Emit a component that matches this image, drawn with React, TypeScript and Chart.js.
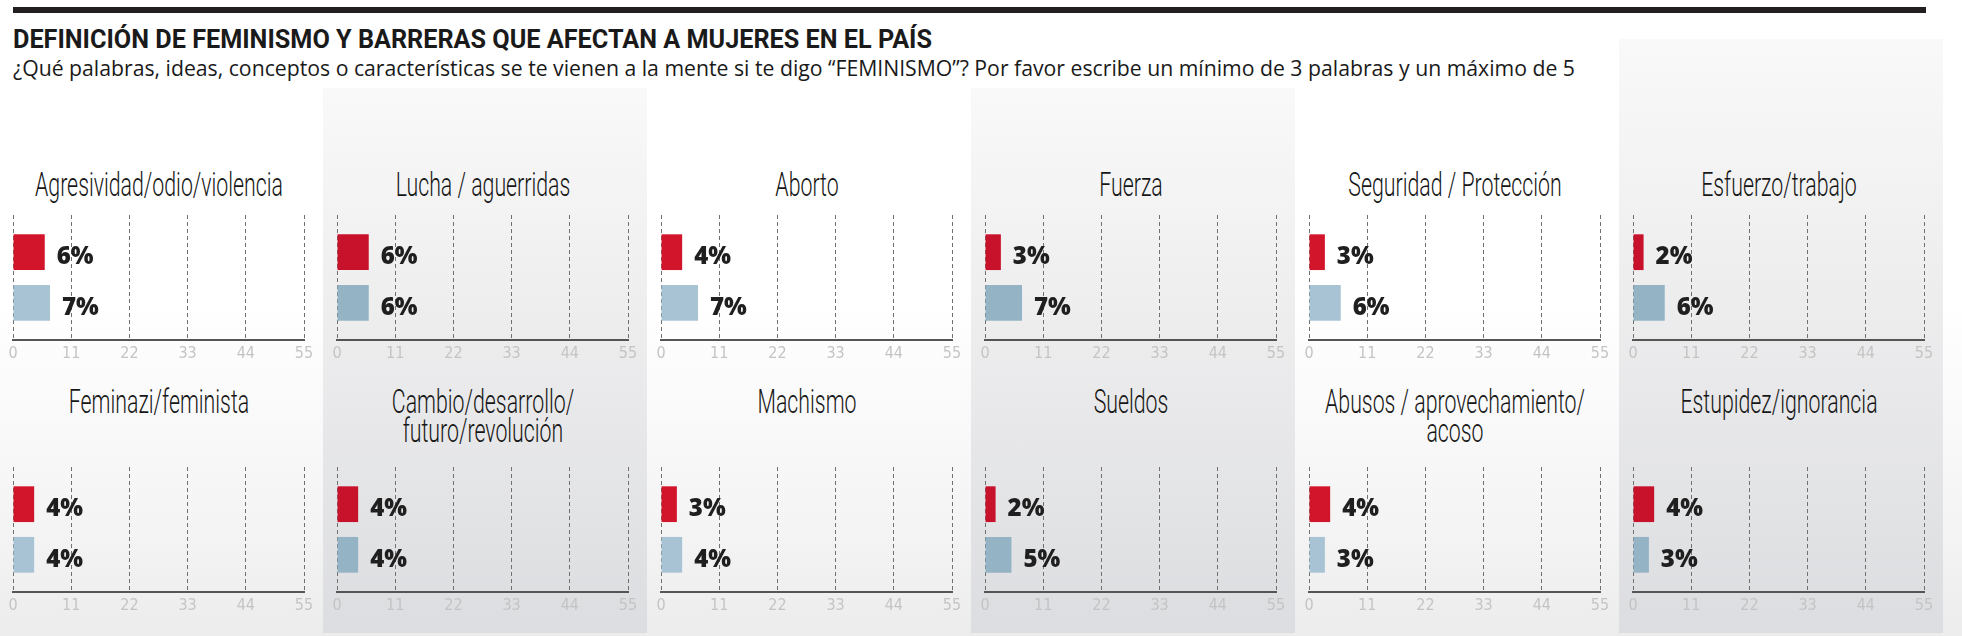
import React, { useEffect, useRef } from 'react';
import { Chart, registerables } from 'chart.js';

Chart.register(...registerables);

// ---------- data ----------
const titleText = 'DEFINICIÓN DE FEMINISMO Y BARRERAS QUE AFECTAN A MUJERES EN EL PAÍS';
const subtitleText =
  '¿Qué palabras, ideas, conceptos o características se te vienen a la mente si te digo “FEMINISMO”? Por favor escribe un mínimo de 3 palabras y un máximo de 5';

const categories = [
  'Agresividad/odio/violencia',
  'Lucha / aguerridas',
  'Aborto',
  'Fuerza',
  'Seguridad / Protección',
  'Esfuerzo/trabajo',
  'Feminazi/feminista',
  'Cambio/desarrollo/\nfuturo/revolución',
  'Machismo',
  'Sueldos',
  'Abusos / aprovechamiento/\nacoso',
  'Estupidez/ignorancia',
];
const redValues = [6, 6, 4, 3, 3, 2, 4, 4, 3, 2, 4, 4];
const blueValues = [7, 6, 7, 7, 6, 6, 4, 4, 4, 5, 3, 3];
const xTicks = [0, 11, 22, 33, 44, 55];

// ---------- layout ----------
const COL_W = 324;
const COL_X0 = -1;
const PLOT_OFF = 14; // zero line offset within column
const PLOT_W = 291;
const PLOT_H = 125;
const ROW_TOPS = [215, 467];
const TITLE_TOPS = [170, 387];
const PAD_L = 20;
const PAD_T = 6;
const AXIS_H = 30;

const titleFont = '300 33px Roboto, "Open Sans", sans-serif';

let measureCanvas: HTMLCanvasElement | null = null;
function measure(text: string, font: string) {
  if (!measureCanvas) measureCanvas = document.createElement('canvas');
  const ctx = measureCanvas.getContext('2d')!;
  ctx.font = font;
  return ctx.measureText(text).width;
}

const valueLabels = {
  id: 'valueLabels',
  afterDatasetsDraw(chart: any) {
    const ctx = chart.ctx;
    ctx.save();
    ctx.font = '800 24px "Open Sans", sans-serif';
    ctx.fillStyle = '#1f1f1f';
    ctx.textAlign = 'left';
    ctx.textBaseline = 'alphabetic';
    chart.data.datasets.forEach((ds: any, i: number) => {
      const meta = chart.getDatasetMeta(i);
      meta.data.forEach((bar: any, j: number) => {
        const v = ds.data[j];
        ctx.fillText(v + '%', bar.x + 12, bar.y + 12);
      });
    });
    ctx.restore();
  },
};

function MiniChart({ idx }: { idx: number }) {
  const ref = useRef<HTMLCanvasElement>(null);
  const col = idx % 6;
  const row = Math.floor(idx / 6);
  const shaded = col % 2 === 1;
  const left = Math.round(COL_X0 + COL_W * col + PLOT_OFF - PAD_L);
  const top = ROW_TOPS[row] - PAD_T;
  const width = PLOT_W + PAD_L * 2;
  const height = PAD_T + PLOT_H + AXIS_H;

  useEffect(() => {
    if (!ref.current) return;
    const chart = new Chart(ref.current, {
      type: 'bar',
      data: {
        labels: [categories[idx].replace('\n', ' ')],
        datasets: [
          {
            label: 'A',
            data: [redValues[idx]],
            backgroundColor: shaded ? '#c8112b' : '#d3152b',
            borderWidth: 0,
            categoryPercentage: 0.81,
            barPercentage: 0.706,
          },
          {
            label: 'B',
            data: [blueValues[idx]],
            backgroundColor: shaded ? '#94b3c4' : '#a8c4d4',
            borderWidth: 0,
            categoryPercentage: 0.81,
            barPercentage: 0.706,
          },
        ],
      },
      options: {
        indexAxis: 'y',
        responsive: false,
        maintainAspectRatio: false,
        animation: false,
        devicePixelRatio: 1,
        layout: { padding: { left: PAD_L, right: PAD_L, top: PAD_T, bottom: 0 } },
        plugins: {
          legend: { display: false },
          tooltip: { enabled: false },
          title: { display: false },
        },
        scales: {
          x: {
            type: 'linear',
            min: xTicks[0],
            max: xTicks[xTicks.length - 1],
            afterBuildTicks: (s: any) => {
              s.ticks = xTicks.map((v) => ({ value: v }));
            },
            afterFit: (s: any) => {
              s.height = AXIS_H;
            },
            grid: { color: '#707070', lineWidth: 1, drawTicks: false },
            border: { display: true, color: '#555555', width: 2, dash: [4, 3] },
            ticks: {
              color: '#c4c4c4',
              padding: 4,
              autoSkip: false,
              maxRotation: 0,
              font: { family: '"Liberation Sans Narrow", "DejaVu Sans Condensed", Roboto, sans-serif', size: 16, weight: '300' },
            },
          },
          y: { display: false },
        },
      } as any,
      plugins: [valueLabels],
    });
    return () => chart.destroy();
  }, [idx]);

  return (
    <canvas
      ref={ref}
      width={width}
      height={height}
      style={{ position: 'absolute', left, top, width, height }}
    />
  );
}

function PanelTitle({ idx, scale }: { idx: number; scale: number }) {
  const col = idx % 6;
  const row = Math.floor(idx / 6);
  const center = COL_X0 + COL_W * col + PLOT_OFF + PLOT_W / 2;
  const lines = categories[idx].split('\n');
  return (
    <div
      style={{
        position: 'absolute',
        left: center - 250,
        top: TITLE_TOPS[row],
        width: 500,
        textAlign: 'center',
        font: titleFont,
        lineHeight: '29px',
        color: '#161616',
        transform: `scaleX(${scale})`,
        transformOrigin: 'center top',
        whiteSpace: 'nowrap',
      }}
    >
      {lines.map((l, i) => (
        <div key={i}>{l}</div>
      ))}
    </div>
  );
}

export default function App() {
  const titleScale = 248 / (measure(categories[0], titleFont) || 248);
  const hFont = '700 25px Roboto, sans-serif';
  const sFont = '400 21px "Open Sans", sans-serif';
  const hScale = 919 / (measure(titleText, hFont) || 919);
  const sScale = 1562 / (measure(subtitleText, sFont) || 1562);

  return (
    <div
      style={{
        position: 'fixed',
        left: 0,
        top: 0,
        width: 1962,
        height: 636,
        overflow: 'hidden',
        background: '#ffffff',
      }}
    >
      <div
        style={{
          position: 'absolute',
          left: 0,
          top: 300,
          width: 1962,
          height: 336,
          background: 'linear-gradient(to bottom, rgba(236,236,236,0) 0%, rgba(236,236,236,0.6) 70%, #ececec 100%)',
        }}
      />
      {[1, 3, 5].map((c) => (
        <div
          key={c}
          style={{
            position: 'absolute',
            left: COL_X0 + COL_W * c,
            top: c === 5 ? 39 : 88,
            width: COL_W,
            height: 633 - (c === 5 ? 39 : 88),
            background: 'linear-gradient(to bottom, #f9f9f9 0%, #eeeeef 40%, #dcdde0 100%)',
          }}
        />
      ))}
      <div style={{ position: 'absolute', left: 13, top: 7, width: 1913, height: 6, background: '#231f20' }} />
      <div
        style={{
          position: 'absolute',
          left: 13,
          top: 27,
          font: hFont,
          lineHeight: '25px',
          color: '#1a1a1a',
          whiteSpace: 'nowrap',
          transform: `scaleX(${hScale})`,
          transformOrigin: 'left top',
        }}
      >
        {titleText}
      </div>
      <div
        style={{
          position: 'absolute',
          left: 13,
          top: 58,
          font: sFont,
          lineHeight: '21px',
          color: '#1a1a1a',
          whiteSpace: 'nowrap',
          transform: `scaleX(${sScale})`,
          transformOrigin: 'left top',
        }}
      >
        {subtitleText}
      </div>
      {categories.map((_, i) => (
        <PanelTitle key={'t' + i} idx={i} scale={titleScale} />
      ))}
      {categories.map((_, i) => (
        <MiniChart key={'c' + i} idx={i} />
      ))}
    </div>
  );
}
